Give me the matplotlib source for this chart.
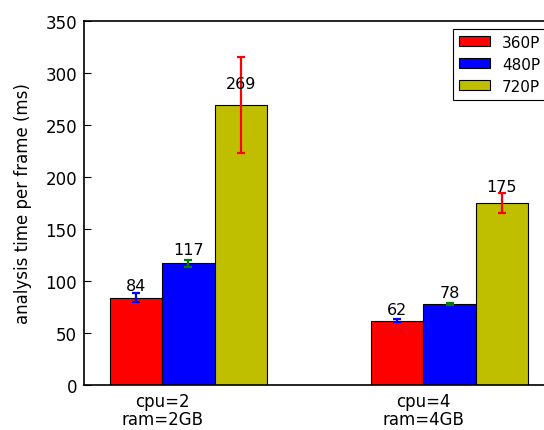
import numpy as np
import matplotlib
matplotlib.use('Agg')
import matplotlib.pyplot as plt

groups = ['cpu=2\nram=2GB', 'cpu=4\nram=4GB']
series = ['360P', '480P', '720P']
v360 = [84, 62]
v480 = [117, 78]
v720 = [269, 175]
e360 = [4.3, 1.0]
e480 = [3.6, 1.0]
e720 = [46, 10]

bar_colors = ['#ff0000', '#0000ff', '#bfbf00']
err_colors = ['#0000ff', '#008000', '#ff0000']

fig = plt.figure(figsize=(5.44, 4.31), dpi=100)
ax = fig.add_axes([84/544, 45/431, 470/544, 364/431])

ind = np.arange(len(groups))
width = 0.2
vals = [v360, v480, v720]
errs = [e360, e480, e720]
for i in range(3):
    x = ind + i * width
    ax.bar(x, vals[i], width, align='edge', color=bar_colors[i],
           edgecolor='black', linewidth=0.8, label=series[i])
    ax.errorbar(x + width / 2, vals[i], yerr=errs[i], fmt='none',
                ecolor=err_colors[i], elinewidth=1.6, capsize=3, capthick=1.6)
    for xx, v in zip(x, vals[i]):
        ax.text(xx + width / 2, 1.05 * v, '%d' % v, ha='center', va='bottom', fontsize=11.5)

ax.set_xlim(-0.1, 1.7)
ax.set_ylim(0, 350)
ax.set_xticks(ind + width)
ax.set_xticklabels(groups, fontsize=12, linespacing=1.0)
ax.tick_params(axis='x', length=0, pad=5)
ax.tick_params(axis='y', direction='in', length=5, right=True, labelsize=12, pad=5)
ax.set_ylabel('analysis time per frame (ms)', fontsize=12, labelpad=10)
for s in ax.spines.values():
    s.set_linewidth(1.2)

leg = ax.legend(loc='upper right', fontsize=11, fancybox=False, framealpha=1,
                edgecolor='black', handlelength=2.0, handleheight=0.65,
                labelspacing=0.45, borderaxespad=0.5)
leg.get_frame().set_linewidth(0.8)

fig.savefig('out.png', dpi=100)
